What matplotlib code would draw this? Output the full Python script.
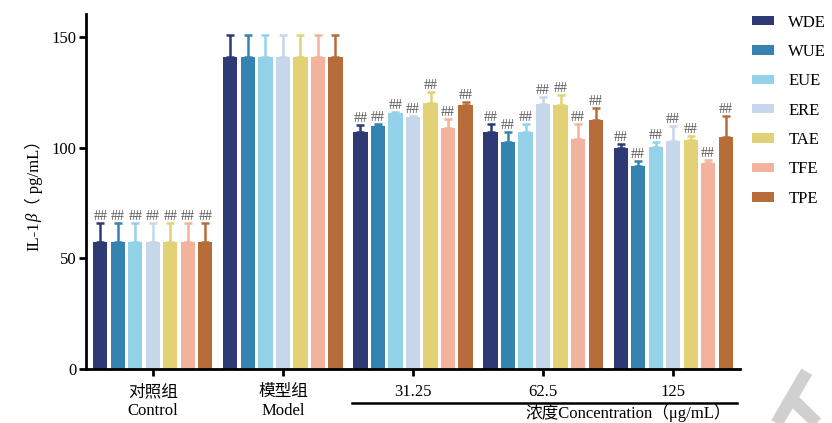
import matplotlib
matplotlib.use("Agg")
import matplotlib.pyplot as plt
import numpy as np
from matplotlib.patches import Patch
from matplotlib.lines import Line2D

# ---- data -------------------------------------------------------------
groups = ["对照组\nControl", "模型组\nModel", "31.25", "62.5", "125"]
series = ["WDE", "WUE", "EUE", "ERE", "TAE", "TFE", "TPE"]
colors = ["#2f3a75", "#3583b1", "#94d2ea", "#c6d7eb", "#e3d275", "#f3b29c", "#b66d3a"]

# mean values per series, one entry per group
means = {
    "WDE": [57.5, 141.0, 107.2, 106.9, 99.7],
    "WUE": [57.5, 141.0, 109.8, 102.7, 91.7],
    "EUE": [57.5, 141.0, 115.5, 106.9, 100.3],
    "ERE": [57.5, 141.0, 114.0, 119.9, 103.2],
    "TAE": [57.5, 141.0, 120.0, 119.3, 103.5],
    "TFE": [57.5, 141.0, 109.1, 103.9, 92.9],
    "TPE": [57.5, 141.0, 119.3, 112.5, 104.7],
}
# upper error (SD)
errors = {
    "WDE": [8.3, 9.7, 3.1, 3.8, 2.0],
    "WUE": [8.3, 9.7, 1.1, 4.4, 2.1],
    "EUE": [8.3, 9.7, 0.8, 3.8, 2.1],
    "ERE": [8.3, 9.7, 0.3, 3.1, 6.4],
    "TAE": [8.3, 9.7, 5.3, 4.6, 1.8],
    "TFE": [8.3, 9.7, 3.9, 6.6, 1.5],
    "TPE": [8.3, 9.7, 1.5, 5.6, 9.8],
}
# significance marks vs. model group
marks = {s: ["##", "", "##", "##", "##"] for s in series}

yticks = [0, 50, 100, 150]

# ---- figure -----------------------------------------------------------
SERIF = ["Liberation Serif", "Noto Sans CJK SC"]
plt.rcParams["font.family"] = SERIF

fig = plt.figure(figsize=(8.32, 4.23), dpi=100)
ax = fig.add_axes([86 / 832, 54 / 423, 654 / 832, 355 / 423])

x = np.arange(len(groups))
pitch = 0.1346
width = 0.108
n = len(series)

for i, (s, c) in enumerate(zip(series, colors)):
    xs = x + (i - (n - 1) / 2) * pitch
    vals = np.array(means[s])
    errs = np.array(errors[s])
    ax.bar(xs, vals, width=width, color=c, zorder=2)
    ax.errorbar(xs, vals, yerr=[np.zeros_like(errs), errs], fmt="none",
                ecolor=c, elinewidth=1.8, capsize=3, capthick=1.8, zorder=1)
    for xi, v, e, m in zip(xs, vals, errs, marks[s]):
        if m:
            ax.annotate(m, (xi, v + e), xytext=(0, 0), textcoords="offset points",
                        ha="center", va="bottom", fontsize=10, color="#555555",
                        family=SERIF)

ax.set_xlim(-0.515, 4.515)
ax.set_ylim(0, 160.4)
ax.set_yticks(yticks)
ax.set_xticks(x)
ax.set_xticklabels(groups, fontsize=12, linespacing=1.2)
ax.tick_params(axis="y", labelsize=12, width=2, length=5, pad=2)
ax.tick_params(axis="x", width=2, length=5, pad=6)
for side in ("top", "right"):
    ax.spines[side].set_visible(False)
for side in ("left", "bottom"):
    ax.spines[side].set_linewidth(2)

# bracket line under the concentration groups
fig.add_artist(Line2D([351.7 / 832, 736.7 / 832], [1 - 402.7 / 423] * 2,
                      color="black", lw=1.8))
fig.text(731 / 832, 1 - 413 / 423, "浓度Concentration（μg/mL）", ha="right",
         va="center", fontsize=12, family=SERIF)

# y-axis label assembled from upright and italic parts
fig.canvas.draw()
renderer = fig.canvas.get_renderer()
parts = [("IL-1", "normal"), ("β", "italic"), ("（ pg/mL）", "normal")]
texts = []
for t, style in parts:
    texts.append(fig.text(0, 0, t, rotation=90, fontsize=12, style=style,
                          family=SERIF, ha="center", va="bottom"))
heights = [tx.get_window_extent(renderer).height for tx in texts]
total = sum(heights)
cx = 34 / 832
y0 = (1 - 191.5 / 423) * 423 - total / 2
for tx, h in zip(texts, heights):
    tx.set_position((cx, y0 / 423))
    y0 += h

# legend
handles = [Patch(facecolor=c, edgecolor="none") for c in colors]
fig.legend(handles, series, loc="upper left", bbox_to_anchor=(745 / 832, 1 - 8 / 423),
           frameon=False, fontsize=12, handlelength=1.35, handleheight=0.5,
           handletextpad=0.85, labelspacing=0.8, borderaxespad=0)

# faint watermark strokes in the lower-right corner
for (x1, y1, x2, y2) in [(806.7, 371.7, 776.7, 423.3), (790, 396.7, 816.7, 423)]:
    fig.add_artist(Line2D([x1 / 832, x2 / 832], [1 - y1 / 423, 1 - y2 / 423],
                          color="#d0d0d0", lw=9, solid_capstyle="butt", zorder=-1))

fig.savefig("out.png", dpi=100)
